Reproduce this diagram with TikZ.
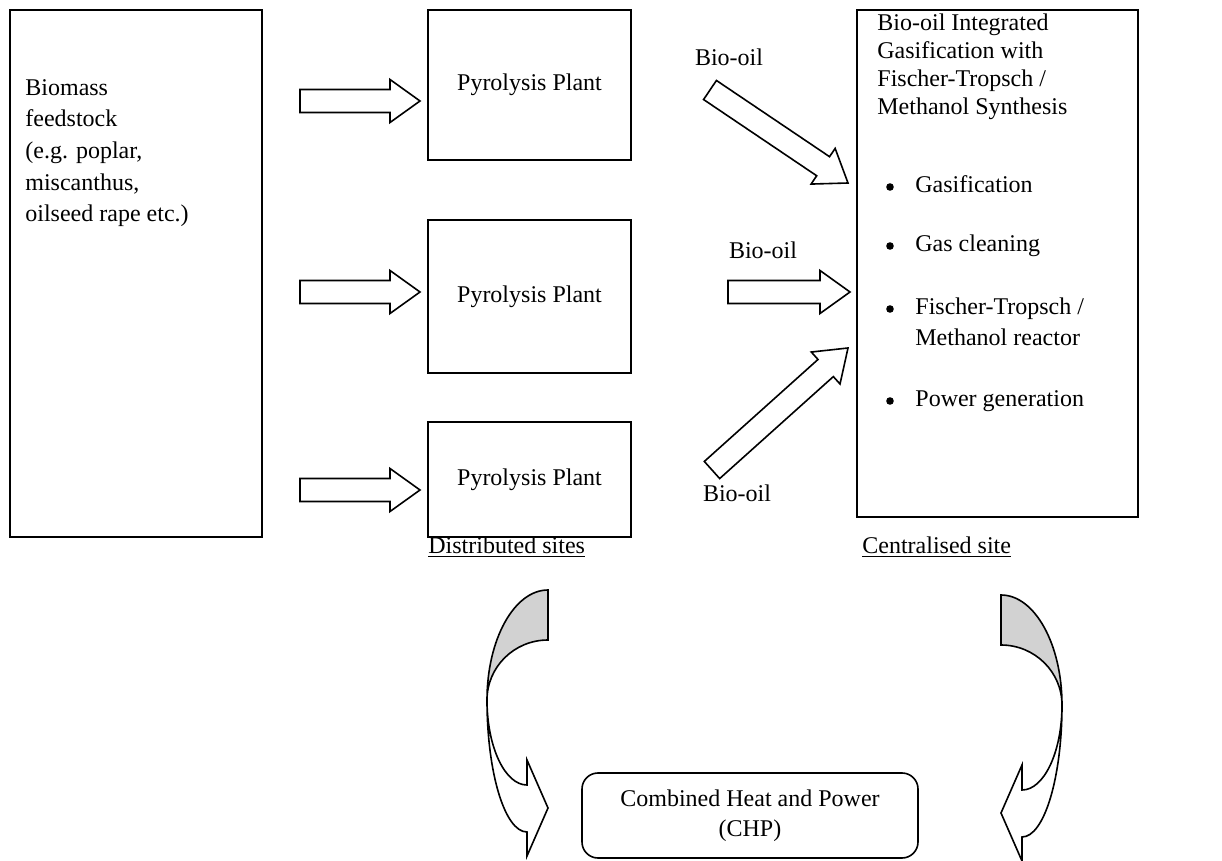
\documentclass[tikz,border=0pt]{standalone}
\usepackage{fontspec}
\setmainfont{Liberation Serif}
\usetikzlibrary{calc}
\newcommand\blockarrow[2]{%
  \coordinate (hb) at ($(#2)!15pt!(#1)$);
  \draw[barr] ($(#1)!5.75pt!90:(#2)$) -- ($(hb)!5.75pt!90:(#2)$) -- ($(hb)!10.75pt!90:(#2)$) -- (#2)
    -- ($(hb)!10.75pt!-90:(#2)$) -- ($(hb)!5.75pt!-90:(#2)$) -- ($(#1)!5.75pt!-90:(#2)$) -- cycle;}
\newcommand\curvedarr{%
  \draw[carr, fill=gray!35] (0,590) .. controls (-33.7,590) and (-61,639.3) .. (-61,700)
     .. controls (-61,666.9) and (-33.7,640) .. (0,640) -- cycle;
  \draw[carr, fill=white] (-61,700) .. controls (-61,772.9) and (-43.1,832) .. (-21,832)
     -- (-21,856) -- (0,808) -- (-21,760) -- (-21,785)
     .. controls (-43,785) and (-61,747) .. (-61,700) -- cycle;}
\begin{document}
\begin{tikzpicture}[x=0.5pt,y=-0.5pt,
  box/.style={draw,line width=0.8pt,inner sep=0pt},
  txt/.style={font=\fontsize{12}{15}\selectfont, inner sep=0pt},
  bul/.style={circle,fill=black,inner sep=0pt,minimum size=3.8pt},
  barr/.style={draw,line width=0.8pt,fill=white,line join=miter},
  carr/.style={line width=0.8pt,draw,line join=miter}]
\useasboundingbox (0,0) rectangle (1222,861);
% boxes
\node[box, minimum width=126pt, minimum height=263.5pt] (bio) at (136,273.5) {};
\node[box, txt, minimum width=101.5pt, minimum height=75pt] (p1) at (529.5,85) {Pyrolysis Plant};
\node[box, txt, minimum width=101.5pt, minimum height=76.5pt] (p2) at (529.5,296.5) {Pyrolysis Plant};
\node[box, txt, minimum width=101.5pt, minimum height=57.5pt] (p3) at (529.5,479.5) {Pyrolysis Plant};
\node[box, minimum width=140.5pt, minimum height=253.5pt] (cen) at (997.5,263.5) {};
\node[box, txt, rounded corners=8pt, minimum width=168pt, minimum height=42.5pt, align=center] (chp) at (750,815.5) {Combined Heat and Power\\(CHP)};
% texts
\node[txt, font=\fontsize{12}{15.8}\selectfont, anchor=north west, align=left] (biotxt) at (25,79) {Biomass\\feedstock\\(e.g. poplar,\\miscanthus,\\oilseed rape etc.)};
\node[txt, font=\fontsize{12}{14}\selectfont, anchor=north west, align=left] (centxt) at (877,13) {Bio-oil Integrated\\Gasification with\\Fischer-Tropsch /\\Methanol Synthesis};
\foreach \y/\n in {193/b1,252/b2,315/b3,407/b4}{\node[bul] (\n) at (890,\y-6) {};}
\node[txt, anchor=base west] (i1) at (915,193) {Gasification};
\node[txt, anchor=base west] (i2) at (915,252) {Gas cleaning};
\node[txt, anchor=base west] (i3) at (915,315) {Fischer-Tropsch /};
\node[txt, anchor=base west] (i3b) at (915,346) {Methanol reactor};
\node[txt, anchor=base west] (i4) at (915,407) {Power generation};
\node[txt] (l1) at (729,57) {Bio-oil};
\node[txt] (l2) at (763,250) {Bio-oil};
\node[txt] (l3) at (737,493) {Bio-oil};
\node[txt, anchor=west] (ds) at (428,547) {\underline{Distributed sites}};
\node[txt, anchor=west] (cs) at (862,547) {\underline{Centralised site}};
% block arrows
\coordinate (a1s) at (300,101); \coordinate (a1e) at (420,101);
\coordinate (a2s) at (300,292); \coordinate (a2e) at (420,292);
\coordinate (a3s) at (300,490); \coordinate (a3e) at (420,490);
\coordinate (b1s) at (710,90);  \coordinate (b1e) at (848,183);
\coordinate (b2s) at (728,292); \coordinate (b2e) at (850,292);
\coordinate (b3s) at (712,470); \coordinate (b3e) at (848,348);
\blockarrow{a1s}{a1e}
\blockarrow{a2s}{a2e}
\blockarrow{a3s}{a3e}
\blockarrow{b1s}{b1e}
\blockarrow{b2s}{b2e}
\blockarrow{b3s}{b3e}
% curved arrows
\begin{scope}[shift={(548,0)}]\curvedarr\end{scope}
\begin{scope}[shift={(1001,5)}, xscale=-1]\curvedarr\end{scope}
\end{tikzpicture}
\end{document}
